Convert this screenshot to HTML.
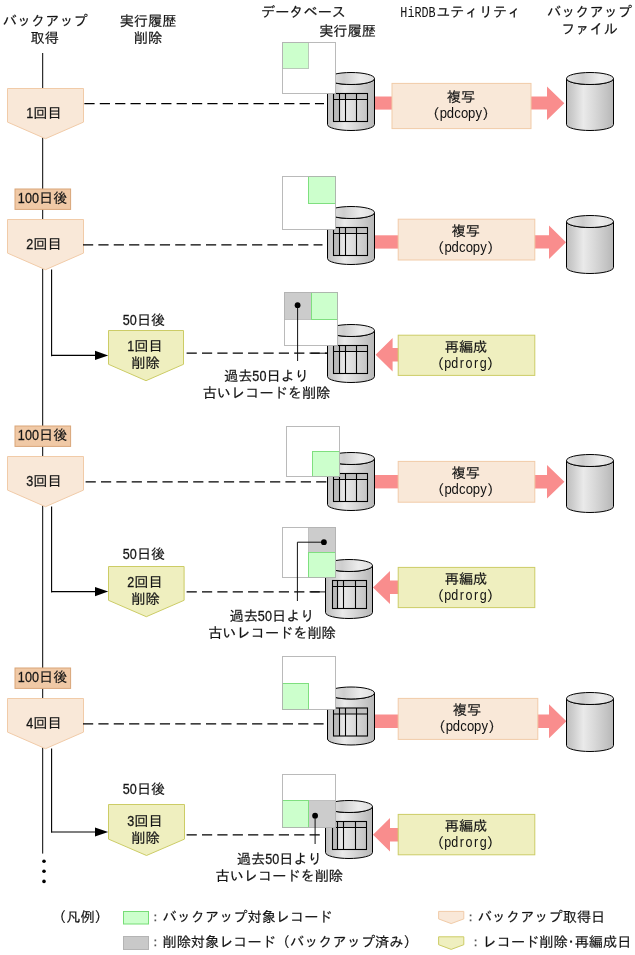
<!DOCTYPE html>
<html lang="ja">
<head>
<meta charset="utf-8">
<title>バックアップ取得と実行履歴削除</title>
<style>
html,body{margin:0;padding:0;background:#fff;}
body{width:635px;height:955px;overflow:hidden;}
svg{display:block;will-change:transform;}
text{stroke:#222;stroke-width:0.18px;}
text .m,text .l{stroke:none;}
text .c{stroke:none;fill:#555;}
.j{font-family:"Liberation Sans","IPAGothic","Noto Sans CJK JP",sans-serif;font-size:14.18px;}
.l{font-family:"Liberation Sans","IPAGothic",sans-serif;}
text .d{stroke:#222;stroke-width:0.3px;}
.m{font-family:"Liberation Mono","IPAGothic",monospace;font-size:15.4px;}
</style>
</head>
<body>
<svg width="635" height="955" viewBox="0 0 635 955">
<defs>
<linearGradient id="cylBody" x1="0" y1="0" x2="1" y2="0">
<stop offset="0" stop-color="#bebebe"/>
<stop offset="0.15" stop-color="#cfcfcf"/>
<stop offset="0.36" stop-color="#eaeaea"/>
<stop offset="0.6" stop-color="#d8d8d8"/>
<stop offset="0.85" stop-color="#c4c4c4"/>
<stop offset="1" stop-color="#b6b6b6"/>
</linearGradient>
<linearGradient id="cylTop" x1="0" y1="0" x2="1" y2="0">
<stop offset="0" stop-color="#e6e6e6"/>
<stop offset="0.35" stop-color="#cecece"/>
<stop offset="0.7" stop-color="#ececec"/>
<stop offset="1" stop-color="#dedede"/>
</linearGradient>
</defs>
<rect x="0" y="0" width="635" height="955" fill="#fff"/>
<text fill="#111"><tspan class="j" x="2.76" y="25.60">バックアップ</tspan></text>
<text fill="#111"><tspan class="j" x="30.52" y="42.80">取得</tspan></text>
<text fill="#111"><tspan class="j" x="119.64" y="25.80">実行履歴</tspan></text>
<text fill="#111"><tspan class="j" x="133.82" y="43.00">削除</tspan></text>
<text fill="#111"><tspan class="j" x="260.96" y="16.50">データベース</tspan></text>
<text fill="#111"><tspan class="j" x="319.14" y="36.00">実行履歴</tspan></text>
<text fill="#111"><tspan class="m" x="400.34" y="16.80" textLength="35.25" lengthAdjust="spacingAndGlyphs">HiRDB</tspan><tspan class="j" x="436.19" y="16.50">ユティリティ</tspan></text>
<text fill="#111"><tspan class="j" x="546.96" y="16.50">バックアップ</tspan></text>
<text fill="#111"><tspan class="j" x="561.14" y="34.00">ファイル</tspan></text>
<path d="M42.7,53 V853.6" stroke="#000" stroke-width="1" fill="none"/>
<circle cx="44.0" cy="861.3" r="1.8" fill="#000"/>
<circle cx="44.0" cy="871.3" r="1.8" fill="#000"/>
<circle cx="44.0" cy="881.4" r="1.8" fill="#000"/>
<path d="M7.50,88.50 H83.50 V122.10 L45.50,138.70 L7.50,122.10 Z" fill="#f9e8d8" stroke="#f1cba8" stroke-width="1"/>
<text fill="#111"><tspan class="l d" font-size="15.0" x="26.32" y="117.80" textLength="7.01" lengthAdjust="spacingAndGlyphs">1</tspan><tspan class="j" x="33.36" y="117.80">回目</tspan></text>
<path d="M84.40,103.50 H324.00" stroke="#000" stroke-width="1.25" stroke-dasharray="10.2 5.17" fill="none"/>
<path d="M327.50,78.50 V124.50 A23.50,6.00 0 0 0 374.50,124.50 V78.50 A23.50,6.00 0 0 1 327.50,78.50 Z" fill="url(#cylBody)" stroke="#000" stroke-width="1.0"/>
<ellipse cx="351.00" cy="78.50" rx="23.50" ry="6.00" fill="url(#cylTop)" stroke="#000" stroke-width="1.0"/>
<rect x="333.50" y="93.50" width="34.00" height="6.00" fill="#c0c0c0"/>
<rect x="333.50" y="93.50" width="6.00" height="28.00" fill="#bababa"/>
<rect x="333.50" y="93.50" width="34.00" height="28.00" fill="none" stroke="#000" stroke-width="1.1"/>
<path d="M333.50,99.50 H367.50 M339.50,93.50 V121.50 M345.50,93.50 V121.50 M356.50,93.50 V121.50" fill="none" stroke="#000" stroke-width="1.1"/>
<rect x="282.50" y="42.50" width="53.00" height="51.00" fill="#fff"/>
<rect x="282.50" y="42.50" width="26.00" height="26.00" fill="#ccffcc" stroke="#b9c9b9" stroke-width="1"/>
<rect x="282.50" y="42.50" width="53.00" height="51.00" fill="none" stroke="#b2b2b2" stroke-opacity="0.9" stroke-width="1"/>
<rect x="375.00" y="96.50" width="18.00" height="13.10" fill="#f98d8d"/>
<path d="M530.00,96.50 H547.00 V86.60 L564.30,103.30 L547.00,120.00 V109.60 H530.00 Z" fill="#f98d8d"/>
<rect x="392.00" y="83.40" width="139.00" height="45.20" fill="#f9e8d8" stroke="#f1cba8" stroke-width="1"/>
<text fill="#111"><tspan class="j" x="446.82" y="101.80">複写</tspan></text>
<text fill="#111"><tspan class="j" x="425.55" y="119.20">（</tspan><tspan class="l" font-size="13.8" x="439.63" y="118.20" textLength="7.29" lengthAdjust="spacingAndGlyphs">p</tspan><tspan class="l" font-size="13.8" x="446.72" y="118.20" textLength="7.29" lengthAdjust="spacingAndGlyphs">d</tspan><tspan class="l" font-size="13.8" x="454.18" y="118.20" textLength="6.55" lengthAdjust="spacingAndGlyphs">c</tspan><tspan class="l" font-size="13.8" x="460.90" y="118.20" textLength="7.29" lengthAdjust="spacingAndGlyphs">o</tspan><tspan class="l" font-size="13.8" x="467.99" y="118.20" textLength="7.29" lengthAdjust="spacingAndGlyphs">p</tspan><tspan class="l" font-size="13.8" x="475.45" y="118.20" textLength="6.55" lengthAdjust="spacingAndGlyphs">y</tspan><tspan class="j" x="482.27" y="119.20">）</tspan></text>
<path d="M566.50,78.50 V124.50 A23.50,6.00 0 0 0 613.50,124.50 V78.50 A23.50,6.00 0 0 1 566.50,78.50 Z" fill="url(#cylBody)" stroke="#000" stroke-width="1.0"/>
<ellipse cx="590.00" cy="78.50" rx="23.50" ry="6.00" fill="url(#cylTop)" stroke="#000" stroke-width="1.0"/>
<rect x="15" y="189.00" width="55.6" height="20.4" fill="#f0c9a6" stroke="#d9a679" stroke-width="1"/>
<text fill="#111"><tspan class="l d" font-size="15.0" x="17.83" y="203.30" textLength="7.01" lengthAdjust="spacingAndGlyphs">1</tspan><tspan class="l d" font-size="15.0" x="24.92" y="203.30" textLength="7.01" lengthAdjust="spacingAndGlyphs">0</tspan><tspan class="l d" font-size="15.0" x="32.01" y="203.30" textLength="7.01" lengthAdjust="spacingAndGlyphs">0</tspan><tspan class="j" x="39.06" y="203.30">日後</tspan></text>
<path d="M7.50,219.50 H83.50 V253.10 L45.50,269.70 L7.50,253.10 Z" fill="#f9e8d8" stroke="#f1cba8" stroke-width="1"/>
<text fill="#111"><tspan class="l d" font-size="15.0" x="26.32" y="248.80" textLength="7.01" lengthAdjust="spacingAndGlyphs">2</tspan><tspan class="j" x="33.36" y="248.80">回目</tspan></text>
<path d="M83.00,244.75 H322.50" stroke="#000" stroke-width="1.25" stroke-dasharray="10.2 5.17" fill="none"/>
<path d="M327.50,212.50 V258.50 A23.50,6.00 0 0 0 374.50,258.50 V212.50 A23.50,6.00 0 0 1 327.50,212.50 Z" fill="url(#cylBody)" stroke="#000" stroke-width="1.0"/>
<ellipse cx="351.00" cy="212.50" rx="23.50" ry="6.00" fill="url(#cylTop)" stroke="#000" stroke-width="1.0"/>
<rect x="333.50" y="227.50" width="34.00" height="6.00" fill="#c0c0c0"/>
<rect x="333.50" y="227.50" width="6.00" height="28.00" fill="#bababa"/>
<rect x="333.50" y="227.50" width="34.00" height="28.00" fill="none" stroke="#000" stroke-width="1.1"/>
<path d="M333.50,233.50 H367.50 M339.50,227.50 V255.50 M345.50,227.50 V255.50 M356.50,227.50 V255.50" fill="none" stroke="#000" stroke-width="1.1"/>
<rect x="282.50" y="176.50" width="53.00" height="53.00" fill="#fff"/>
<rect x="308.50" y="176.50" width="27.00" height="27.00" fill="#ccffcc" stroke="#7fdf7f" stroke-width="1"/>
<rect x="282.50" y="176.50" width="53.00" height="53.00" fill="none" stroke="#b2b2b2" stroke-opacity="0.9" stroke-width="1"/>
<rect x="375.00" y="235.30" width="24.20" height="13.30" fill="#f98d8d"/>
<path d="M533.80,235.30 H549.00 V225.40 L566.00,242.20 L549.00,259.00 V248.60 H533.80 Z" fill="#f98d8d"/>
<rect x="398.20" y="219.20" width="136.60" height="40.80" fill="#f9e8d8" stroke="#f1cba8" stroke-width="1"/>
<text fill="#111"><tspan class="j" x="451.62" y="235.80">複写</tspan></text>
<text fill="#111"><tspan class="j" x="430.35" y="253.20">（</tspan><tspan class="l" font-size="13.8" x="444.43" y="252.20" textLength="7.29" lengthAdjust="spacingAndGlyphs">p</tspan><tspan class="l" font-size="13.8" x="451.52" y="252.20" textLength="7.29" lengthAdjust="spacingAndGlyphs">d</tspan><tspan class="l" font-size="13.8" x="458.98" y="252.20" textLength="6.55" lengthAdjust="spacingAndGlyphs">c</tspan><tspan class="l" font-size="13.8" x="465.70" y="252.20" textLength="7.29" lengthAdjust="spacingAndGlyphs">o</tspan><tspan class="l" font-size="13.8" x="472.79" y="252.20" textLength="7.29" lengthAdjust="spacingAndGlyphs">p</tspan><tspan class="l" font-size="13.8" x="480.25" y="252.20" textLength="6.55" lengthAdjust="spacingAndGlyphs">y</tspan><tspan class="j" x="487.07" y="253.20">）</tspan></text>
<path d="M566.50,221.50 V267.50 A23.50,6.00 0 0 0 613.50,267.50 V221.50 A23.50,6.00 0 0 1 566.50,221.50 Z" fill="url(#cylBody)" stroke="#000" stroke-width="1.0"/>
<ellipse cx="590.00" cy="221.50" rx="23.50" ry="6.00" fill="url(#cylTop)" stroke="#000" stroke-width="1.0"/>
<path d="M51.6,269.40 V356.20 M51.6,355.40 H97" stroke="#000" stroke-width="1.1" fill="none"/>
<path d="M95,350.80 L108.2,355.40 L95,360.00 Z" fill="#000"/>
<text fill="#111"><tspan class="l d" font-size="15.0" x="122.77" y="324.80" textLength="7.01" lengthAdjust="spacingAndGlyphs">5</tspan><tspan class="l d" font-size="15.0" x="129.86" y="324.80" textLength="7.01" lengthAdjust="spacingAndGlyphs">0</tspan><tspan class="j" x="136.91" y="324.80">日後</tspan></text>
<path d="M108.50,330.50 H183.50 V364.30 L146.00,380.70 L108.50,364.30 Z" fill="#efefbf" stroke="#cccc66" stroke-width="1"/>
<text fill="#111"><tspan class="l d" font-size="15.0" x="127.32" y="350.80" textLength="7.01" lengthAdjust="spacingAndGlyphs">1</tspan><tspan class="j" x="134.37" y="350.80">回目</tspan></text>
<text fill="#111"><tspan class="j" x="131.22" y="368.20">削除</tspan></text>
<path d="M186.60,353.10 H327.00" stroke="#000" stroke-width="1.25" stroke-dasharray="10.2 5.17" fill="none"/>
<path d="M311.00,353.20 H327.50" stroke="#000" stroke-width="0.9" fill="none"/>
<path d="M327.50,330.50 V376.50 A23.50,6.00 0 0 0 374.50,376.50 V330.50 A23.50,6.00 0 0 1 327.50,330.50 Z" fill="url(#cylBody)" stroke="#000" stroke-width="1.0"/>
<ellipse cx="351.00" cy="330.50" rx="23.50" ry="6.00" fill="url(#cylTop)" stroke="#000" stroke-width="1.0"/>
<rect x="333.50" y="345.50" width="34.00" height="6.00" fill="#c0c0c0"/>
<rect x="333.50" y="345.50" width="6.00" height="28.00" fill="#bababa"/>
<rect x="333.50" y="345.50" width="34.00" height="28.00" fill="none" stroke="#000" stroke-width="1.1"/>
<path d="M333.50,351.50 H367.50 M339.50,345.50 V373.50 M345.50,345.50 V373.50 M356.50,345.50 V373.50" fill="none" stroke="#000" stroke-width="1.1"/>
<rect x="284.50" y="292.50" width="53.00" height="53.00" fill="#fff"/>
<rect x="284.50" y="292.50" width="27.00" height="27.00" fill="#cccccc" stroke="#c0c0c0" stroke-width="1"/>
<rect x="311.50" y="292.50" width="26.00" height="27.00" fill="#ccffcc" stroke="#7fdf7f" stroke-width="1"/>
<rect x="284.50" y="292.50" width="53.00" height="53.00" fill="none" stroke="#b2b2b2" stroke-opacity="0.9" stroke-width="1"/>
<path d="M297.60,305.20 L297.60,361.00" stroke="#111" stroke-width="1" fill="none"/>
<circle cx="297.60" cy="305.20" r="2.9" fill="#000"/>
<path d="M375.60,354.70 L392.60,338.00 V348.00 H399.20 V361.40 H392.60 V371.40 Z" fill="#f98d8d"/>
<rect x="398.20" y="335.20" width="136.60" height="40.20" fill="#efefbf" stroke="#cccc66" stroke-width="1"/>
<text fill="#111"><tspan class="j" x="444.73" y="351.80">再編成</tspan></text>
<text fill="#111"><tspan class="j" x="430.05" y="368.60">（</tspan><tspan class="l" font-size="14.6" x="444.28" y="368.20" textLength="6.98" lengthAdjust="spacingAndGlyphs">p</tspan><tspan class="l" font-size="14.6" x="451.37" y="368.20" textLength="6.98" lengthAdjust="spacingAndGlyphs">d</tspan><tspan class="l" font-size="14.6" x="459.86" y="368.20" textLength="4.18" lengthAdjust="spacingAndGlyphs">r</tspan><tspan class="l" font-size="14.6" x="465.55" y="368.20" textLength="6.98" lengthAdjust="spacingAndGlyphs">o</tspan><tspan class="l" font-size="14.6" x="474.04" y="368.20" textLength="4.18" lengthAdjust="spacingAndGlyphs">r</tspan><tspan class="l" font-size="14.6" x="479.73" y="368.20" textLength="6.98" lengthAdjust="spacingAndGlyphs">g</tspan><tspan class="j" x="486.77" y="368.60">）</tspan></text>
<text fill="#111"><tspan class="j" x="223.96" y="380.80">過去</tspan><tspan class="l d" font-size="15.0" x="252.36" y="380.80" textLength="7.01" lengthAdjust="spacingAndGlyphs">5</tspan><tspan class="l d" font-size="15.0" x="259.45" y="380.80" textLength="7.01" lengthAdjust="spacingAndGlyphs">0</tspan><tspan class="j" x="266.50" y="380.80">日より</tspan></text>
<text fill="#111"><tspan class="j" x="202.69" y="398.20">古いレコードを削除</tspan></text>
<rect x="15" y="426.00" width="55.6" height="20.4" fill="#f0c9a6" stroke="#d9a679" stroke-width="1"/>
<text fill="#111"><tspan class="l d" font-size="15.0" x="17.83" y="440.30" textLength="7.01" lengthAdjust="spacingAndGlyphs">1</tspan><tspan class="l d" font-size="15.0" x="24.92" y="440.30" textLength="7.01" lengthAdjust="spacingAndGlyphs">0</tspan><tspan class="l d" font-size="15.0" x="32.01" y="440.30" textLength="7.01" lengthAdjust="spacingAndGlyphs">0</tspan><tspan class="j" x="39.06" y="440.30">日後</tspan></text>
<path d="M7.50,456.50 H83.50 V490.10 L45.50,506.70 L7.50,490.10 Z" fill="#f9e8d8" stroke="#f1cba8" stroke-width="1"/>
<text fill="#111"><tspan class="l d" font-size="15.0" x="26.32" y="485.80" textLength="7.01" lengthAdjust="spacingAndGlyphs">3</tspan><tspan class="j" x="33.36" y="485.80">回目</tspan></text>
<path d="M85.60,481.90 H327.00" stroke="#000" stroke-width="1.25" stroke-dasharray="10.2 5.17" fill="none"/>
<path d="M327.50,458.50 V504.50 A23.50,6.00 0 0 0 374.50,504.50 V458.50 A23.50,6.00 0 0 1 327.50,458.50 Z" fill="url(#cylBody)" stroke="#000" stroke-width="1.0"/>
<ellipse cx="351.00" cy="458.50" rx="23.50" ry="6.00" fill="url(#cylTop)" stroke="#000" stroke-width="1.0"/>
<rect x="333.50" y="473.50" width="34.00" height="6.00" fill="#c0c0c0"/>
<rect x="333.50" y="473.50" width="6.00" height="28.00" fill="#bababa"/>
<rect x="333.50" y="473.50" width="34.00" height="28.00" fill="none" stroke="#000" stroke-width="1.1"/>
<path d="M333.50,479.50 H367.50 M339.50,473.50 V501.50 M345.50,473.50 V501.50 M356.50,473.50 V501.50" fill="none" stroke="#000" stroke-width="1.1"/>
<rect x="286.50" y="426.50" width="53.00" height="50.00" fill="#fff"/>
<rect x="312.50" y="451.50" width="27.00" height="25.00" fill="#ccffcc" stroke="#7fdf7f" stroke-width="1"/>
<rect x="286.50" y="426.50" width="53.00" height="50.00" fill="none" stroke="#b2b2b2" stroke-opacity="0.9" stroke-width="1"/>
<rect x="375.00" y="475.00" width="24.20" height="13.40" fill="#f98d8d"/>
<path d="M533.80,475.00 H547.00 V465.00 L564.40,481.70 L547.00,498.40 V488.40 H533.80 Z" fill="#f98d8d"/>
<rect x="398.20" y="461.40" width="136.60" height="40.80" fill="#f9e8d8" stroke="#f1cba8" stroke-width="1"/>
<text fill="#111"><tspan class="j" x="451.62" y="478.00">複写</tspan></text>
<text fill="#111"><tspan class="j" x="430.35" y="495.40">（</tspan><tspan class="l" font-size="13.8" x="444.43" y="494.40" textLength="7.29" lengthAdjust="spacingAndGlyphs">p</tspan><tspan class="l" font-size="13.8" x="451.52" y="494.40" textLength="7.29" lengthAdjust="spacingAndGlyphs">d</tspan><tspan class="l" font-size="13.8" x="458.98" y="494.40" textLength="6.55" lengthAdjust="spacingAndGlyphs">c</tspan><tspan class="l" font-size="13.8" x="465.70" y="494.40" textLength="7.29" lengthAdjust="spacingAndGlyphs">o</tspan><tspan class="l" font-size="13.8" x="472.79" y="494.40" textLength="7.29" lengthAdjust="spacingAndGlyphs">p</tspan><tspan class="l" font-size="13.8" x="480.25" y="494.40" textLength="6.55" lengthAdjust="spacingAndGlyphs">y</tspan><tspan class="j" x="487.07" y="495.40">）</tspan></text>
<path d="M566.50,460.50 V506.50 A23.50,6.00 0 0 0 613.50,506.50 V460.50 A23.50,6.00 0 0 1 566.50,460.50 Z" fill="url(#cylBody)" stroke="#000" stroke-width="1.0"/>
<ellipse cx="590.00" cy="460.50" rx="23.50" ry="6.00" fill="url(#cylTop)" stroke="#000" stroke-width="1.0"/>
<path d="M51.6,506.60 V592.40 M51.6,591.60 H97" stroke="#000" stroke-width="1.1" fill="none"/>
<path d="M95,587.00 L108.2,591.60 L95,596.20 Z" fill="#000"/>
<text fill="#111"><tspan class="l d" font-size="15.0" x="122.77" y="558.90" textLength="7.01" lengthAdjust="spacingAndGlyphs">5</tspan><tspan class="l d" font-size="15.0" x="129.86" y="558.90" textLength="7.01" lengthAdjust="spacingAndGlyphs">0</tspan><tspan class="j" x="136.91" y="558.90">日後</tspan></text>
<path d="M108.50,566.50 H184.10 V600.30 L146.30,616.70 L108.50,600.30 Z" fill="#efefbf" stroke="#cccc66" stroke-width="1"/>
<text fill="#111"><tspan class="l d" font-size="15.0" x="127.32" y="586.80" textLength="7.01" lengthAdjust="spacingAndGlyphs">2</tspan><tspan class="j" x="134.37" y="586.80">回目</tspan></text>
<text fill="#111"><tspan class="j" x="131.22" y="604.20">削除</tspan></text>
<path d="M186.60,591.80 H325.60" stroke="#000" stroke-width="1.25" stroke-dasharray="10.2 5.17" fill="none"/>
<path d="M310.50,591.90 H325.50" stroke="#000" stroke-width="0.9" fill="none"/>
<path d="M325.50,565.50 V612.50 A23.50,6.00 0 0 0 372.50,612.50 V565.50 A23.50,6.00 0 0 1 325.50,565.50 Z" fill="url(#cylBody)" stroke="#000" stroke-width="1.0"/>
<ellipse cx="349.00" cy="565.50" rx="23.50" ry="6.00" fill="url(#cylTop)" stroke="#000" stroke-width="1.0"/>
<rect x="332.50" y="580.50" width="34.00" height="6.00" fill="#c0c0c0"/>
<rect x="332.50" y="580.50" width="5.00" height="28.00" fill="#bababa"/>
<rect x="332.50" y="580.50" width="34.00" height="28.00" fill="none" stroke="#000" stroke-width="1.1"/>
<path d="M332.50,586.50 H366.50 M337.50,580.50 V608.50 M343.50,580.50 V608.50 M355.50,580.50 V608.50" fill="none" stroke="#000" stroke-width="1.1"/>
<rect x="282.50" y="527.50" width="53.00" height="50.00" fill="#fff"/>
<rect x="308.50" y="527.50" width="27.00" height="25.00" fill="#cccccc" stroke="#c0c0c0" stroke-width="1"/>
<rect x="308.50" y="552.50" width="27.00" height="25.00" fill="#ccffcc" stroke="#7fdf7f" stroke-width="1"/>
<rect x="282.50" y="527.50" width="53.00" height="50.00" fill="none" stroke="#b2b2b2" stroke-opacity="0.9" stroke-width="1"/>
<path d="M323.90,542.20 L297.40,542.20 L297.40,601.00" stroke="#111" stroke-width="1" fill="none"/>
<circle cx="323.90" cy="542.20" r="2.9" fill="#000"/>
<path d="M373.00,587.50 L390.00,571.00 V580.60 H399.20 V594.00 H390.00 V604.00 Z" fill="#f98d8d"/>
<rect x="398.20" y="567.40" width="136.60" height="40.20" fill="#efefbf" stroke="#cccc66" stroke-width="1"/>
<text fill="#111"><tspan class="j" x="444.73" y="584.00">再編成</tspan></text>
<text fill="#111"><tspan class="j" x="430.05" y="600.80">（</tspan><tspan class="l" font-size="14.6" x="444.28" y="600.40" textLength="6.98" lengthAdjust="spacingAndGlyphs">p</tspan><tspan class="l" font-size="14.6" x="451.37" y="600.40" textLength="6.98" lengthAdjust="spacingAndGlyphs">d</tspan><tspan class="l" font-size="14.6" x="459.86" y="600.40" textLength="4.18" lengthAdjust="spacingAndGlyphs">r</tspan><tspan class="l" font-size="14.6" x="465.55" y="600.40" textLength="6.98" lengthAdjust="spacingAndGlyphs">o</tspan><tspan class="l" font-size="14.6" x="474.04" y="600.40" textLength="4.18" lengthAdjust="spacingAndGlyphs">r</tspan><tspan class="l" font-size="14.6" x="479.73" y="600.40" textLength="6.98" lengthAdjust="spacingAndGlyphs">g</tspan><tspan class="j" x="486.77" y="600.80">）</tspan></text>
<text fill="#111"><tspan class="j" x="229.46" y="620.80">過去</tspan><tspan class="l d" font-size="15.0" x="257.86" y="620.80" textLength="7.01" lengthAdjust="spacingAndGlyphs">5</tspan><tspan class="l d" font-size="15.0" x="264.95" y="620.80" textLength="7.01" lengthAdjust="spacingAndGlyphs">0</tspan><tspan class="j" x="272.00" y="620.80">日より</tspan></text>
<text fill="#111"><tspan class="j" x="208.19" y="638.20">古いレコードを削除</tspan></text>
<rect x="15" y="668.00" width="55.6" height="20.4" fill="#f0c9a6" stroke="#d9a679" stroke-width="1"/>
<text fill="#111"><tspan class="l d" font-size="15.0" x="17.83" y="682.30" textLength="7.01" lengthAdjust="spacingAndGlyphs">1</tspan><tspan class="l d" font-size="15.0" x="24.92" y="682.30" textLength="7.01" lengthAdjust="spacingAndGlyphs">0</tspan><tspan class="l d" font-size="15.0" x="32.01" y="682.30" textLength="7.01" lengthAdjust="spacingAndGlyphs">0</tspan><tspan class="j" x="39.06" y="682.30">日後</tspan></text>
<path d="M7.50,698.50 H83.50 V732.10 L45.50,748.70 L7.50,732.10 Z" fill="#f9e8d8" stroke="#f1cba8" stroke-width="1"/>
<text fill="#111"><tspan class="l d" font-size="15.0" x="26.32" y="727.80" textLength="7.01" lengthAdjust="spacingAndGlyphs">4</tspan><tspan class="j" x="33.36" y="727.80">回目</tspan></text>
<path d="M83.00,723.90 H323.60" stroke="#000" stroke-width="1.25" stroke-dasharray="10.2 5.17" fill="none"/>
<path d="M327.50,693.00 V739.00 A23.50,6.00 0 0 0 374.50,739.00 V693.00 A23.50,6.00 0 0 1 327.50,693.00 Z" fill="url(#cylBody)" stroke="#000" stroke-width="1.0"/>
<ellipse cx="351.00" cy="693.00" rx="23.50" ry="6.00" fill="url(#cylTop)" stroke="#000" stroke-width="1.0"/>
<rect x="333.50" y="708.00" width="34.00" height="6.00" fill="#c0c0c0"/>
<rect x="333.50" y="708.00" width="6.00" height="28.00" fill="#bababa"/>
<rect x="333.50" y="708.00" width="34.00" height="28.00" fill="none" stroke="#000" stroke-width="1.1"/>
<path d="M333.50,714.00 H367.50 M339.50,708.00 V736.00 M345.50,708.00 V736.00 M356.50,708.00 V736.00" fill="none" stroke="#000" stroke-width="1.1"/>
<rect x="282.50" y="656.50" width="53.00" height="53.00" fill="#fff"/>
<rect x="282.50" y="683.50" width="26.00" height="26.00" fill="#ccffcc" stroke="#7fdf7f" stroke-width="1"/>
<rect x="282.50" y="656.50" width="53.00" height="53.00" fill="none" stroke="#b2b2b2" stroke-opacity="0.9" stroke-width="1"/>
<rect x="375.00" y="714.50" width="24.20" height="13.50" fill="#f98d8d"/>
<path d="M536.80,714.50 H549.00 V704.20 L566.40,721.20 L549.00,738.20 V728.00 H536.80 Z" fill="#f98d8d"/>
<rect x="398.20" y="698.40" width="139.60" height="41.00" fill="#f9e8d8" stroke="#f1cba8" stroke-width="1"/>
<text fill="#111"><tspan class="j" x="452.82" y="715.00">複写</tspan></text>
<text fill="#111"><tspan class="j" x="431.55" y="732.40">（</tspan><tspan class="l" font-size="13.8" x="445.63" y="731.40" textLength="7.29" lengthAdjust="spacingAndGlyphs">p</tspan><tspan class="l" font-size="13.8" x="452.72" y="731.40" textLength="7.29" lengthAdjust="spacingAndGlyphs">d</tspan><tspan class="l" font-size="13.8" x="460.18" y="731.40" textLength="6.55" lengthAdjust="spacingAndGlyphs">c</tspan><tspan class="l" font-size="13.8" x="466.90" y="731.40" textLength="7.29" lengthAdjust="spacingAndGlyphs">o</tspan><tspan class="l" font-size="13.8" x="473.99" y="731.40" textLength="7.29" lengthAdjust="spacingAndGlyphs">p</tspan><tspan class="l" font-size="13.8" x="481.45" y="731.40" textLength="6.55" lengthAdjust="spacingAndGlyphs">y</tspan><tspan class="j" x="488.27" y="732.40">）</tspan></text>
<path d="M566.50,698.50 V745.50 A23.50,6.00 0 0 0 613.50,745.50 V698.50 A23.50,6.00 0 0 1 566.50,698.50 Z" fill="url(#cylBody)" stroke="#000" stroke-width="1.0"/>
<ellipse cx="590.00" cy="698.50" rx="23.50" ry="6.00" fill="url(#cylTop)" stroke="#000" stroke-width="1.0"/>
<path d="M51.6,748.60 V832.80 M51.6,832.00 H97" stroke="#000" stroke-width="1.1" fill="none"/>
<path d="M95,827.40 L108.2,832.00 L95,836.60 Z" fill="#000"/>
<text fill="#111"><tspan class="l d" font-size="15.0" x="122.77" y="794.40" textLength="7.01" lengthAdjust="spacingAndGlyphs">5</tspan><tspan class="l d" font-size="15.0" x="129.86" y="794.40" textLength="7.01" lengthAdjust="spacingAndGlyphs">0</tspan><tspan class="j" x="136.91" y="794.40">日後</tspan></text>
<path d="M108.50,804.50 H184.50 V839.10 L146.50,855.50 L108.50,839.10 Z" fill="#efefbf" stroke="#cccc66" stroke-width="1"/>
<text fill="#111"><tspan class="l d" font-size="15.0" x="127.32" y="825.60" textLength="7.01" lengthAdjust="spacingAndGlyphs">3</tspan><tspan class="j" x="134.37" y="825.60">回目</tspan></text>
<text fill="#111"><tspan class="j" x="131.22" y="843.00">削除</tspan></text>
<path d="M186.60,834.90 H320.50" stroke="#000" stroke-width="1.25" stroke-dasharray="10.2 5.17" fill="none"/>
<path d="M325.50,806.50 V852.50 A23.50,6.00 0 0 0 372.50,852.50 V806.50 A23.50,6.00 0 0 1 325.50,806.50 Z" fill="url(#cylBody)" stroke="#000" stroke-width="1.0"/>
<ellipse cx="349.00" cy="806.50" rx="23.50" ry="6.00" fill="url(#cylTop)" stroke="#000" stroke-width="1.0"/>
<rect x="332.50" y="821.50" width="34.00" height="6.00" fill="#c0c0c0"/>
<rect x="332.50" y="821.50" width="5.00" height="28.00" fill="#bababa"/>
<rect x="332.50" y="821.50" width="34.00" height="28.00" fill="none" stroke="#000" stroke-width="1.1"/>
<path d="M332.50,827.50 H366.50 M337.50,821.50 V849.50 M343.50,821.50 V849.50 M355.50,821.50 V849.50" fill="none" stroke="#000" stroke-width="1.1"/>
<rect x="282.50" y="774.50" width="53.00" height="53.00" fill="#fff"/>
<rect x="308.50" y="800.50" width="27.00" height="27.00" fill="#cccccc" stroke="#c0c0c0" stroke-width="1"/>
<rect x="282.50" y="800.50" width="26.00" height="27.00" fill="#ccffcc" stroke="#7fdf7f" stroke-width="1"/>
<rect x="282.50" y="774.50" width="53.00" height="53.00" fill="none" stroke="#b2b2b2" stroke-opacity="0.9" stroke-width="1"/>
<path d="M315.10,815.70 L315.10,844.00" stroke="#111" stroke-width="1" fill="none"/>
<circle cx="315.10" cy="815.70" r="2.9" fill="#000"/>
<path d="M373.00,834.80 L390.00,818.00 V828.00 H399.20 V841.40 H390.00 V851.60 Z" fill="#f98d8d"/>
<rect x="398.20" y="814.40" width="136.60" height="40.40" fill="#efefbf" stroke="#cccc66" stroke-width="1"/>
<text fill="#111"><tspan class="j" x="444.73" y="831.00">再編成</tspan></text>
<text fill="#111"><tspan class="j" x="430.05" y="847.80">（</tspan><tspan class="l" font-size="14.6" x="444.28" y="847.40" textLength="6.98" lengthAdjust="spacingAndGlyphs">p</tspan><tspan class="l" font-size="14.6" x="451.37" y="847.40" textLength="6.98" lengthAdjust="spacingAndGlyphs">d</tspan><tspan class="l" font-size="14.6" x="459.86" y="847.40" textLength="4.18" lengthAdjust="spacingAndGlyphs">r</tspan><tspan class="l" font-size="14.6" x="465.55" y="847.40" textLength="6.98" lengthAdjust="spacingAndGlyphs">o</tspan><tspan class="l" font-size="14.6" x="474.04" y="847.40" textLength="4.18" lengthAdjust="spacingAndGlyphs">r</tspan><tspan class="l" font-size="14.6" x="479.73" y="847.40" textLength="6.98" lengthAdjust="spacingAndGlyphs">g</tspan><tspan class="j" x="486.77" y="847.80">）</tspan></text>
<text fill="#111"><tspan class="j" x="236.76" y="863.50">過去</tspan><tspan class="l d" font-size="15.0" x="265.16" y="863.50" textLength="7.01" lengthAdjust="spacingAndGlyphs">5</tspan><tspan class="l d" font-size="15.0" x="272.25" y="863.50" textLength="7.01" lengthAdjust="spacingAndGlyphs">0</tspan><tspan class="j" x="279.30" y="863.50">日より</tspan></text>
<text fill="#111"><tspan class="j" x="215.49" y="880.90">古いレコードを削除</tspan></text>
<text fill="#111"><tspan class="j" x="52.04" y="921.80">（凡例）</tspan></text>
<rect x="123.5" y="911.5" width="25" height="12.5" fill="#ccffcc" stroke="#77dd77" stroke-width="1"/>
<text fill="#111"><tspan class="j c" x="148.30" y="921.80">：</tspan><tspan class="j" x="162.48" y="921.80">バックアップ対象レコード</tspan></text>
<rect x="123.5" y="936.5" width="25" height="13" fill="#c9c9c9" stroke="#b4b4b4" stroke-width="1"/>
<text fill="#111"><tspan class="j c" x="148.30" y="947.00">：</tspan><tspan class="j" x="162.48" y="947.00">削除対象レコード（バックアップ済み）</tspan></text>
<path d="M438.6,911.4 H463.8 V918.9 L451.2,923.6 L438.6,918.9 Z" fill="#f9e8d8" stroke="#f1cba8" stroke-width="1" stroke-linejoin="round"/>
<text fill="#111"><tspan class="j c" x="463.50" y="921.80">：</tspan><tspan class="j" x="477.68" y="921.80">バックアップ取得日</tspan></text>
<path d="M438.6,936.8 H463.8 V944.7 L451.2,949.4 L438.6,944.7 Z" fill="#efefbf" stroke="#cccc66" stroke-width="1" stroke-linejoin="round"/>
<text fill="#111"><tspan class="j c" x="468.40" y="947.00">：</tspan><tspan class="j" x="482.58" y="947.00">レコード削除･再編成日</tspan></text>
</svg>
</body>
</html>
